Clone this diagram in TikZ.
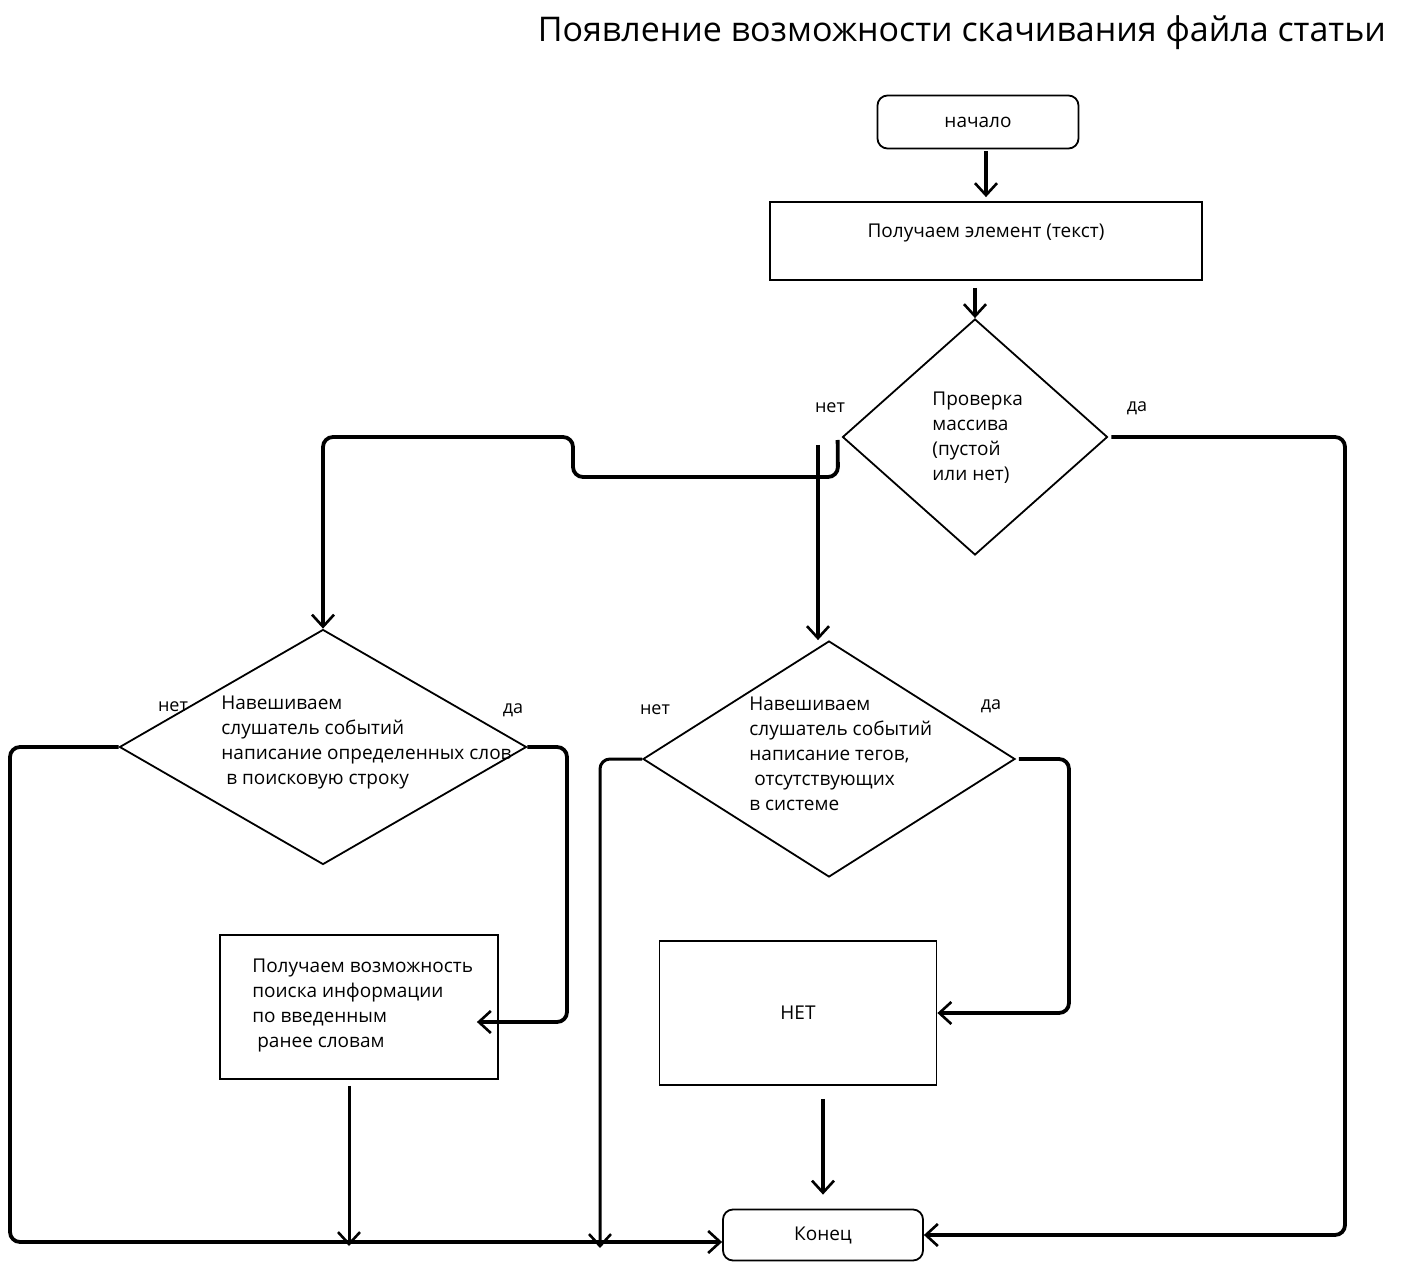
\documentclass[tikz,border=0pt]{standalone}
\usepackage{fontspec}
\setmainfont{Open Sans}
\usetikzlibrary{shapes.geometric,arrows.meta}

\begin{document}
\begin{tikzpicture}[x=0.5pt,y=-0.5pt,
    box/.style={draw,line width=0.9pt,inner sep=0,font=\fontsize{9.5}{12}\selectfont},
    term/.style={box,rounded corners=5pt},
    decision/.style={draw,diamond,line width=0.9pt,inner sep=0},
    conn/.style={line width=1.9pt,rounded corners=5pt,-{Straight Barb[length=6pt,width=11pt,line width=1.3pt]}},
    thinconn/.style={conn,line width=1.5pt},
    txt/.style={align=left,anchor=north west,inner sep=0,font=\fontsize{9.5}{12.4}\selectfont},
    lbl/.style={inner sep=0,font=\fontsize{9}{11}\selectfont}]
  \useasboundingbox (0,0) rectangle (1403,1272);
  \node[anchor=east,font=\fontsize{17}{21}\selectfont] (title) at (1393,33) {Появление возможности скачивания файла статьи};

  \node[term,minimum width=100.5pt,minimum height=26.5pt] (start) at (978,122) {начало};
  \node[box,minimum width=216pt,minimum height=39pt] (elem) at (986,241) {\raisebox{10pt}{Получаем элемент (текст)}};
  \node[decision,minimum width=132.5pt,minimum height=118pt] (check) at (975,437) {};
  \node[txt] (checktxt) at (932,392) {Проверка\\массива\\(пустой\\или нет)};
  \node[lbl] (checkno) at (830,408) {нет};
  \node[lbl] (checkyes) at (1137,408) {да};

  \node[decision,minimum width=203.5pt,minimum height=117.5pt] (words) at (323,747) {};
  \node[txt] (wordstxt) at (221,696) {Навешиваем\\слушатель событий\\написание определенных слов\\\ в поисковую строку};
  \node[lbl] (wordsno) at (173,707) {нет};
  \node[lbl] (wordsyes) at (513,710) {да};

  \node[decision,minimum width=186pt,minimum height=118pt] (tags) at (829,759) {};
  \node[txt] (tagstxt) at (749,697) {Навешиваем\\слушатель событий\\написание тегов,\\\ отсутствующих\\в системе};
  \node[lbl] (tagsno) at (655,710) {нет};
  \node[lbl] (tagsyes) at (991,706) {да};

  \node[box,minimum width=139pt,minimum height=72pt] (search) at (359,1007) {};
  \node[txt] (searchtxt) at (252,959) {Получаем возможность\\поиска информации\\по введенным\\\ ранее словам};
  \node[box,minimum width=138.5pt,minimum height=72pt] (none) at (798,1013) {НЕТ};
  \node[term,minimum width=100pt,minimum height=25.5pt] (finish) at (823,1235) {Конец};

  \coordinate (split) at (818,445);
  \coordinate (joinA) at (349,1246);
  \coordinate (joinB) at (600,1248);

  \draw[conn,shorten <=1pt,shorten >=2pt] (start.south -| elem.north) -- (elem.north);
  \draw[conn,shorten <=3.5pt] (elem.south -| check.north) -- (check.north);
  \draw[conn] ([xshift=-2pt,yshift=-1.5pt]check.west) -- (838,477) -- (573,477) -- (573,437) -- (323,437) -- (words.north);
  \draw[conn] (split) -- (split |- tags.north);
  \draw[conn,shorten <=1.5pt] (check.east) -- (1345,437) |- (finish.east);
  \draw[conn] (words.west) -- (10,747) -- (10,1242) -- ([yshift=-3.5pt]finish.west);
  \draw[conn] (words.east) -- (567,747) -- (567,1022) -- ([xshift=-11pt,yshift=-7.5pt]search.east);
  \draw[thinconn,shorten <=3pt] (search.south -| joinA) -- (joinA);
  \draw[thinconn] (tags.west) -- (600,759) -- (joinB);
  \draw[conn,shorten <=1.5pt] (tags.east) -- (1069,759) |- (none.east);
  \draw[conn,shorten <=6.5pt,shorten >=7pt] (none.south -| finish.north) -- (finish.north);
\end{tikzpicture}
\end{document}
